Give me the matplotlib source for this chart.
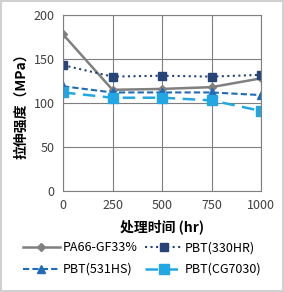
import matplotlib.pyplot as plt
import numpy as np

plt.rcParams['font.family'] = ['Noto Sans CJK SC', 'DejaVu Sans']

# Data
hours = [0, 250, 500, 750, 1000]
pa66 = [178, 115, 116, 118, 128]
pbt_330hr = [143, 130, 131, 130, 132]
pbt_531hs = [119, 112, 112, 112, 109]
pbt_cg7030 = [112, 106, 106, 103, 91]
labels = ['PA66-GF33%', 'PBT(330HR)', 'PBT(531HS)', 'PBT(CG7030)']

fig = plt.figure(figsize=(2.84, 2.92), dpi=100)
fig.patch.set_edgecolor('#d0d0d0')
fig.patch.set_linewidth(1.5)
ax = fig.add_axes([63 / 284, 1 - 191 / 292, 198 / 284, 176 / 292])

l1, = ax.plot(hours, pa66, color='#808080', lw=1.8, marker='D', ms=4, label=labels[0])
l2, = ax.plot(hours, pbt_330hr, color='#264478', lw=1.5, ls=':', marker='s', ms=6, label=labels[1])
l3, = ax.plot(hours, pbt_531hs, color='#1f6bb8', lw=1.5, ls=(0, (3, 1.5)), marker='^', ms=5.5, label=labels[2])
l4, = ax.plot(hours, pbt_cg7030, color='#22a6e4', lw=1.8, ls=(0, (5, 3)), marker='s', ms=6.5, label=labels[3])

ax.set_xlim(0, 1000)
ax.set_ylim(0, 200)
ax.set_xticks(hours)
ax.set_yticks([0, 50, 100, 150, 200])
ax.grid(True, color='#7f7f7f', lw=0.8)
ax.set_axisbelow(True)
for s in ax.spines.values():
    s.set_color('#7f7f7f')
    s.set_linewidth(0.8)
ax.tick_params(length=0, labelsize=9, colors='#404040', pad=6)

ax.set_xlabel('处理时间 (hr)', fontsize=10, fontweight='bold', labelpad=5)
ax.set_ylabel('拉伸强度（MPa）', fontsize=10, fontweight='bold', labelpad=4)

# row-wise order: matplotlib fills legend columns first
fig.legend([l1, l3, l2, l4], [labels[0], labels[2], labels[1], labels[3]],
           loc='lower center', bbox_to_anchor=(0.5, 0.025), ncol=2, frameon=False,
           fontsize=9, handlelength=3.0, handletextpad=0.2, columnspacing=0.6,
           labelspacing=0.7, borderaxespad=0.3)

fig.savefig('out.png', dpi=100, edgecolor=fig.get_edgecolor())
